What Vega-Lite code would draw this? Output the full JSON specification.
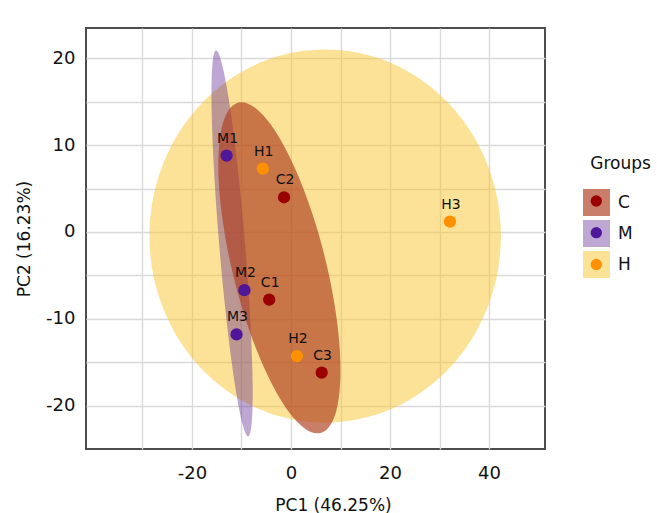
{
  "$schema": "https://vega.github.io/schema/vega-lite/v6.json",
  "width": 459,
  "height": 421,
  "autosize": {"type": "none"},
  "padding": {"left": 86, "top": 28, "right": 112, "bottom": 64},
  "background": "white",
  "config": {
    "font": "DejaVu Sans",
    "view": {"stroke": "#4D4D4D", "strokeWidth": 2},
    "axis": {
      "grid": true, "gridColor": "#D9D9D9", "gridWidth": 1.4,
      "domain": false, "ticks": false, "tickSize": 0,
      "labelFont": "DejaVu Sans", "labelFontSize": 18, "labelColor": "#111111",
      "titleFont": "DejaVu Sans", "titleFontSize": 17, "titleFontWeight": "normal", "titleColor": "#111111"
    }
  },
  "datasets": {
    "pts": [
      {"s": "C1", "g": "C", "x": -4.4, "y": -7.8},
      {"s": "C2", "g": "C", "x": -1.4, "y": 4.0},
      {"s": "C3", "g": "C", "x": 6.2, "y": -16.2},
      {"s": "M1", "g": "M", "x": -13.0, "y": 8.8},
      {"s": "M2", "g": "M", "x": -9.4, "y": -6.7},
      {"s": "M3", "g": "M", "x": -11.0, "y": -11.8},
      {"s": "H1", "g": "H", "x": -5.7, "y": 7.3},
      {"s": "H2", "g": "H", "x": 1.2, "y": -14.3},
      {"s": "H3", "g": "H", "x": 32.1, "y": 1.2}
    ],
    "ellH": [
      {"eg": "H", "i": 0, "x": 6.9, "y": 21.03},
      {"eg": "H", "i": 1, "x": 16.09, "y": 20.30},
      {"eg": "H", "i": 2, "x": 24.65, "y": 18.15},
      {"eg": "H", "i": 3, "x": 32.00, "y": 14.73},
      {"eg": "H", "i": 4, "x": 37.64, "y": 10.28},
      {"eg": "H", "i": 5, "x": 41.19, "y": 5.09},
      {"eg": "H", "i": 6, "x": 42.4, "y": -0.47},
      {"eg": "H", "i": 7, "x": 41.19, "y": -6.03},
      {"eg": "H", "i": 8, "x": 37.64, "y": -11.22},
      {"eg": "H", "i": 9, "x": 32.00, "y": -15.67},
      {"eg": "H", "i": 10, "x": 24.65, "y": -19.09},
      {"eg": "H", "i": 11, "x": 16.09, "y": -21.24},
      {"eg": "H", "i": 12, "x": 6.9, "y": -21.97},
      {"eg": "H", "i": 13, "x": -2.29, "y": -21.24},
      {"eg": "H", "i": 14, "x": -10.85, "y": -19.09},
      {"eg": "H", "i": 15, "x": -18.20, "y": -15.67},
      {"eg": "H", "i": 16, "x": -23.84, "y": -11.22},
      {"eg": "H", "i": 17, "x": -27.39, "y": -6.03},
      {"eg": "H", "i": 18, "x": -28.6, "y": -0.47},
      {"eg": "H", "i": 19, "x": -27.39, "y": 5.09},
      {"eg": "H", "i": 20, "x": -23.84, "y": 10.28},
      {"eg": "H", "i": 21, "x": -18.20, "y": 14.73},
      {"eg": "H", "i": 22, "x": -10.85, "y": 18.15},
      {"eg": "H", "i": 23, "x": -2.29, "y": 20.30}
    ],
    "ellM": [
      {"eg": "M", "i": 0, "x": -15.13, "y": 20.93},
      {"eg": "M", "i": 1, "x": -14.34, "y": 20.17},
      {"eg": "M", "i": 2, "x": -13.39, "y": 17.95},
      {"eg": "M", "i": 3, "x": -12.33, "y": 14.42},
      {"eg": "M", "i": 4, "x": -11.25, "y": 9.81},
      {"eg": "M", "i": 5, "x": -10.21, "y": 4.45},
      {"eg": "M", "i": 6, "x": -9.28, "y": -1.31},
      {"eg": "M", "i": 7, "x": -8.53, "y": -7.07},
      {"eg": "M", "i": 8, "x": -8.02, "y": -12.43},
      {"eg": "M", "i": 9, "x": -7.76, "y": -17.04},
      {"eg": "M", "i": 10, "x": -7.79, "y": -20.57},
      {"eg": "M", "i": 11, "x": -8.10, "y": -22.79},
      {"eg": "M", "i": 12, "x": -8.67, "y": -23.55},
      {"eg": "M", "i": 13, "x": -9.46, "y": -22.79},
      {"eg": "M", "i": 14, "x": -10.41, "y": -20.57},
      {"eg": "M", "i": 15, "x": -11.47, "y": -17.04},
      {"eg": "M", "i": 16, "x": -12.55, "y": -12.43},
      {"eg": "M", "i": 17, "x": -13.60, "y": -7.07},
      {"eg": "M", "i": 18, "x": -14.52, "y": -1.31},
      {"eg": "M", "i": 19, "x": -15.27, "y": 4.45},
      {"eg": "M", "i": 20, "x": -15.78, "y": 9.81},
      {"eg": "M", "i": 21, "x": -16.04, "y": 14.42},
      {"eg": "M", "i": 22, "x": -16.01, "y": 17.95},
      {"eg": "M", "i": 23, "x": -15.70, "y": 20.17}
    ],
    "ellC": [
      {"eg": "C", "i": 0, "x": -10.00, "y": 14.95},
      {"eg": "C", "i": 1, "x": -7.24, "y": 14.30},
      {"eg": "C", "i": 2, "x": -4.13, "y": 12.40},
      {"eg": "C", "i": 3, "x": -0.91, "y": 9.36},
      {"eg": "C", "i": 4, "x": 2.21, "y": 5.42},
      {"eg": "C", "i": 5, "x": 5.03, "y": 0.82},
      {"eg": "C", "i": 6, "x": 7.34, "y": -4.12},
      {"eg": "C", "i": 7, "x": 8.99, "y": -9.06},
      {"eg": "C", "i": 8, "x": 9.87, "y": -13.66},
      {"eg": "C", "i": 9, "x": 9.92, "y": -17.60},
      {"eg": "C", "i": 10, "x": 9.13, "y": -20.64},
      {"eg": "C", "i": 11, "x": 7.57, "y": -22.54},
      {"eg": "C", "i": 12, "x": 5.32, "y": -23.19},
      {"eg": "C", "i": 13, "x": 2.56, "y": -22.54},
      {"eg": "C", "i": 14, "x": -0.55, "y": -20.64},
      {"eg": "C", "i": 15, "x": -3.77, "y": -17.60},
      {"eg": "C", "i": 16, "x": -6.89, "y": -13.66},
      {"eg": "C", "i": 17, "x": -9.71, "y": -9.06},
      {"eg": "C", "i": 18, "x": -12.02, "y": -4.12},
      {"eg": "C", "i": 19, "x": -13.67, "y": 0.82},
      {"eg": "C", "i": 20, "x": -14.55, "y": 5.42},
      {"eg": "C", "i": 21, "x": -14.60, "y": 9.36},
      {"eg": "C", "i": 22, "x": -13.81, "y": 12.40},
      {"eg": "C", "i": 23, "x": -12.25, "y": 14.30}
    ]
  },
  "encoding": {
    "x": {
      "field": "x", "type": "quantitative",
      "scale": {"domain": [-41.4, 51.3], "nice": false, "zero": false},
      "axis": {
        "title": "PC1 (46.25%)",
        "values": [-30, -20, -10, 0, 10, 20, 30, 40],
        "labelExpr": "datum.value % 20 === 0 ? '' + datum.value : ''",
        "labelPadding": 15,
        "titleX": 247, "titleY": 61, "titleBaseline": "alphabetic"
      }
    },
    "y": {
      "field": "y", "type": "quantitative",
      "scale": {"domain": [-25.0, 23.5], "nice": false, "zero": false},
      "axis": {
        "title": "PC2 (16.23%)",
        "values": [-20, -15, -10, -5, 0, 5, 10, 15, 20],
        "labelExpr": "datum.value % 10 === 0 ? '' + datum.value : ''",
        "labelPadding": 11,
        "titlePadding": 12
      }
    }
  },
  "layer": [
    {
      "data": {"name": "ellH"},
      "mark": {"type": "line", "interpolate": "cardinal-closed", "strokeOpacity": 0, "strokeWidth": 0},
      "encoding": {
        "order": {"field": "i", "type": "quantitative"},
        "fill": {
          "field": "eg", "type": "nominal",
          "scale": {"domain": ["C", "M", "H"], "range": ["rgba(175,63,33,0.67)", "rgba(85,26,139,0.38)", "rgba(247,197,46,0.5)"]},
          "legend": {
            "title": null, "orient": "none", "legendX": 497, "legendY": 161,
            "symbolType": "square", "symbolSize": 729, "symbolStrokeWidth": 0, "symbolOpacity": 1,
            "labelFontSize": 17, "labelOffset": 8, "labelColor": "#111111", "rowPadding": 4, "padding": 0, "zindex": 1
          }
        }
      }
    },
    {
      "data": {"name": "ellM"},
      "mark": {"type": "line", "interpolate": "cardinal-closed", "strokeOpacity": 0, "strokeWidth": 0},
      "encoding": {
        "order": {"field": "i", "type": "quantitative"},
        "fill": {"field": "eg", "type": "nominal"}
      }
    },
    {
      "data": {"name": "ellC"},
      "mark": {"type": "line", "interpolate": "cardinal-closed", "strokeOpacity": 0, "strokeWidth": 0},
      "encoding": {
        "order": {"field": "i", "type": "quantitative"},
        "fill": {"field": "eg", "type": "nominal"}
      }
    },
    {
      "data": {"name": "pts"},
      "mark": {"type": "circle", "size": 150, "opacity": 1},
      "encoding": {
        "color": {
          "field": "g", "type": "nominal",
          "sort": ["C", "M", "H"],
          "scale": {"range": ["#9A0000", "#4F1699", "#FF9000"]},
          "legend": {
            "title": "Groups", "orient": "none", "legendX": 504.3, "legendY": 128,
            "titleFontSize": 17, "titleFontWeight": "normal", "titleColor": "#111111", "titlePadding": 22,
            "symbolType": "circle", "symbolSize": 128, "symbolStrokeWidth": 0, "symbolOpacity": 1,
            "labelExpr": "''", "labelFontSize": 1, "labelOffset": 0, "rowPadding": 19.7, "padding": 0, "zindex": 2
          }
        }
      }
    },
    {
      "data": {"name": "pts"},
      "mark": {"type": "text", "align": "center", "baseline": "alphabetic", "dx": 1, "dy": -13, "fontSize": 14, "color": "#111111"},
      "encoding": {
        "text": {"field": "s", "type": "nominal"}
      }
    }
  ]
}
